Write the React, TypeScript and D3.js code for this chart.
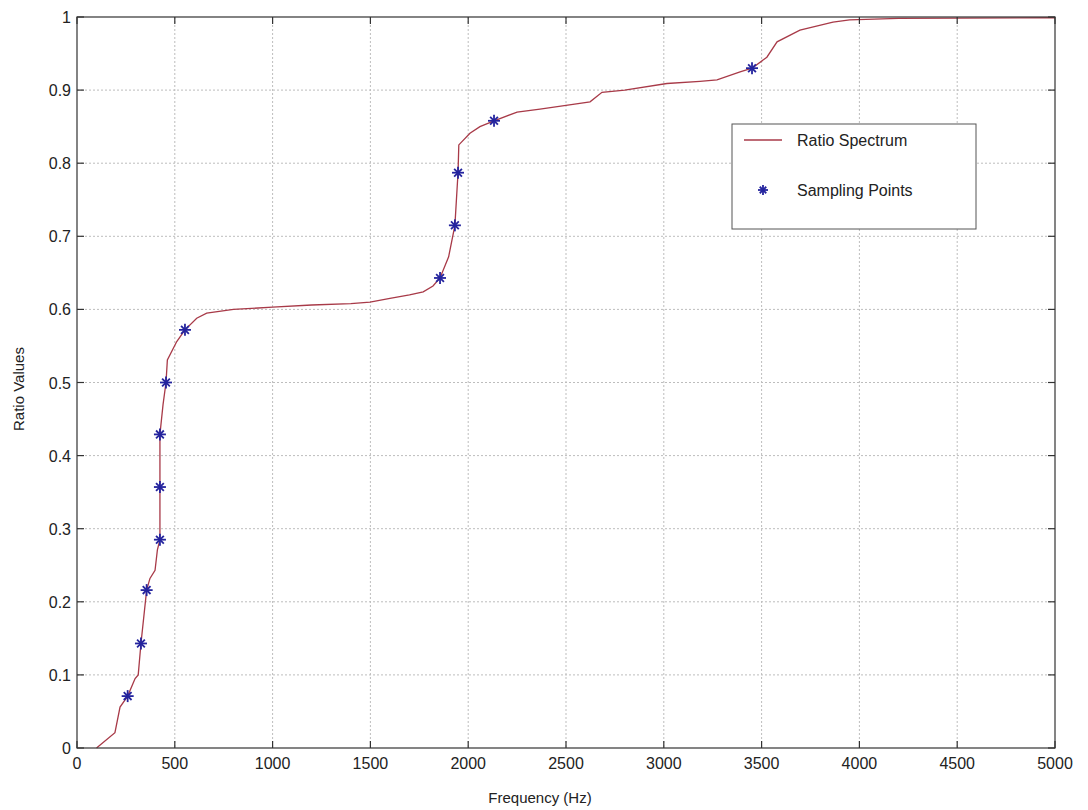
import React from "react";
import * as d3 from "d3";

const curveFreq = [100, 109, 194, 220, 259, 297, 313, 327, 356, 373, 399, 411, 424, 424, 424, 440, 455, 462, 510, 552, 612, 663, 800, 1000, 1200, 1400, 1498, 1600, 1700, 1770, 1820, 1856, 1900, 1932, 1948, 1952, 2009, 2060, 2132, 2250, 2367, 2500, 2623, 2684, 2800, 3016, 3185, 3272, 3390, 3451, 3527, 3579, 3696, 3865, 3950, 4200, 5000];
const curveVals = [0.0, 0.002, 0.021, 0.056, 0.071, 0.095, 0.10, 0.143, 0.216, 0.232, 0.243, 0.271, 0.285, 0.357, 0.429, 0.47, 0.500, 0.531, 0.556, 0.572, 0.588, 0.595, 0.600, 0.603, 0.606, 0.608, 0.610, 0.615, 0.620, 0.624, 0.632, 0.643, 0.672, 0.715, 0.787, 0.825, 0.841, 0.850, 0.858, 0.870, 0.874, 0.879, 0.884, 0.897, 0.900, 0.909, 0.912, 0.914, 0.925, 0.930, 0.945, 0.966, 0.982, 0.993, 0.996, 0.998, 0.999];

const sampleFreq = [259, 327, 356, 424, 424, 424, 455, 552, 1856, 1932, 1948, 2132, 3451];
const sampleVals = [0.071, 0.143, 0.216, 0.285, 0.357, 0.429, 0.500, 0.572, 0.643, 0.715, 0.787, 0.858, 0.930];

const xTicks = [0, 500, 1000, 1500, 2000, 2500, 3000, 3500, 4000, 4500, 5000];
const yTicks = [0, 0.1, 0.2, 0.3, 0.4, 0.5, 0.6, 0.7, 0.8, 0.9, 1];

const legendLabels = ["Ratio Spectrum", "Sampling Points"];

const W = 1088, H = 810;
const L = 77, R = 1055, T = 17, B = 748;
const FONT = "Liberation Sans, Arial, sans-serif";
const LINE_COLOR = "#a83a48";
const MARK_COLOR = "#24249e";

function Star({ x, y, s = 6 }: { x: number; y: number; s?: number }) {
  const d = s * 0.65;
  return (
    <g stroke={MARK_COLOR} strokeWidth={1.8}>
      <line x1={x - s} y1={y} x2={x + s} y2={y} />
      <line x1={x} y1={y - s} x2={x} y2={y + s} />
      <line x1={x - d} y1={y - d} x2={x + d} y2={y + d} />
      <line x1={x - d} y1={y + d} x2={x + d} y2={y - d} />
    </g>
  );
}

export default function App() {
  const x = d3.scaleLinear().domain([0, 5000]).range([L, R]);
  const y = d3.scaleLinear().domain([0, 1]).range([B, T]);
  const pts: [number, number][] = curveFreq.map((f, i) => [f, curveVals[i]]);
  const lineLin = d3
    .line<[number, number]>()
    .x((d) => x(d[0]))
    .y((d) => y(d[1]));

  return (
    <svg width={W} height={H} style={{ position: "absolute", left: 0, top: 0, background: "#fff" }}>
      {/* grid */}
      <g stroke="#bdbdbd" strokeWidth={1} strokeDasharray="2,2">
        {xTicks.slice(1, -1).map((t) => (
          <line key={"gx" + t} x1={x(t)} x2={x(t)} y1={T} y2={B} />
        ))}
        {yTicks.slice(1, -1).map((t) => (
          <line key={"gy" + t} x1={L} x2={R} y1={y(t)} y2={y(t)} />
        ))}
      </g>
      {/* curve */}
      <path d={lineLin(pts) || ""} fill="none" stroke={LINE_COLOR} strokeWidth={1.3} />
      {/* samples */}
      {sampleFreq.map((f, i) => (
        <Star key={"s" + i} x={x(f)} y={y(sampleVals[i])} />
      ))}
      {/* box */}
      <rect x={L} y={T} width={R - L} height={B - T} fill="none" stroke="#333" strokeWidth={1.2} />
      {/* ticks */}
      <g stroke="#333" strokeWidth={1.2}>
        {xTicks.map((t) => (
          <g key={"tx" + t}>
            <line x1={x(t)} x2={x(t)} y1={B} y2={B - 7} />
            <line x1={x(t)} x2={x(t)} y1={T} y2={T + 7} />
          </g>
        ))}
        {yTicks.map((t) => (
          <g key={"ty" + t}>
            <line x1={L} x2={L + 7} y1={y(t)} y2={y(t)} />
            <line x1={R} x2={R - 7} y1={y(t)} y2={y(t)} />
          </g>
        ))}
      </g>
      {/* tick labels */}
      <g fontFamily={FONT} fontSize={16} fill="#222">
        {xTicks.map((t) => (
          <text key={"lx" + t} x={x(t)} y={B + 21} textAnchor="middle">
            {t}
          </text>
        ))}
        {yTicks.map((t) => (
          <text key={"ly" + t} x={L - 6} y={y(t) + 6} textAnchor="end">
            {t}
          </text>
        ))}
      </g>
      {/* axis titles */}
      <text x={540} y={803} textAnchor="middle" fontFamily={FONT} fontSize={15} fill="#222">
        Frequency (Hz)
      </text>
      <text
        transform={`translate(24, 389) rotate(-90)`}
        textAnchor="middle"
        fontFamily={FONT}
        fontSize={15}
        fill="#222"
      >
        Ratio Values
      </text>
      {/* legend */}
      <g>
        <rect x={732} y={124} width={244} height={105} fill="#fff" stroke="#555" strokeWidth={1} />
        <line x1={744} x2={782} y1={140} y2={140} stroke={LINE_COLOR} strokeWidth={1.3} />
        <Star x={763} y={190} s={5} />
        <text x={797} y={146} fontFamily={FONT} fontSize={16} fill="#222">
          {legendLabels[0]}
        </text>
        <text x={797} y={196} fontFamily={FONT} fontSize={16} fill="#222">
          {legendLabels[1]}
        </text>
      </g>
    </svg>
  );
}
